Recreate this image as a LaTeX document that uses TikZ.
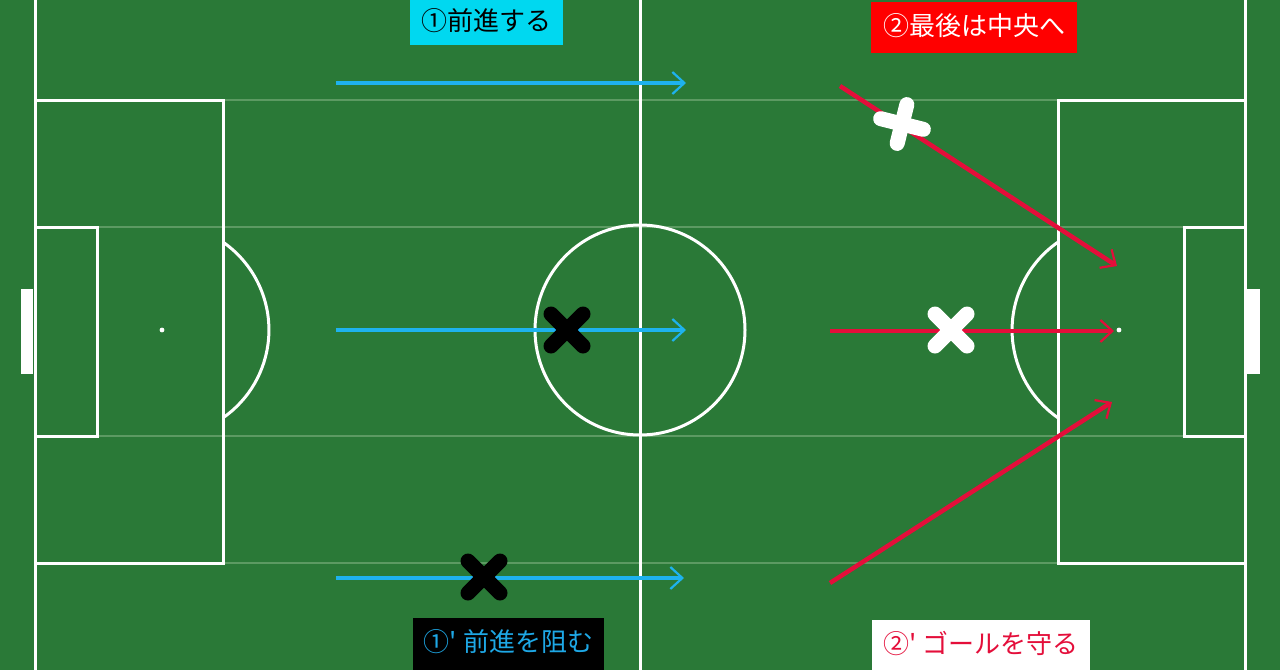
\documentclass[tikz,border=0pt]{standalone}
\usepackage{fontspec}
\newfontfamily\cjk{Noto Sans CJK JP}
\usetikzlibrary{arrows.meta}
\definecolor{pitch}{RGB}{42,121,55}
\definecolor{faint}{RGB}{92,154,98}
\definecolor{arrblue}{RGB}{30,178,238}
\definecolor{arrred}{RGB}{228,14,58}
\definecolor{boxcyan}{RGB}{0,216,240}
\definecolor{boxred}{RGB}{255,0,0}
\definecolor{txtblue}{RGB}{30,168,230}
\tikzset{
  fline/.style={white,line width=3pt},
  faintline/.style={faint,line width=2.5pt},
  bluearr/.style={arrblue,line width=4.5pt,-{Straight Barb[length=12pt,width=22pt,line width=2.2pt]}},
  redarr/.style={arrred,line width=4.5pt,-{Straight Barb[length=12pt,width=22pt,line width=2.2pt]}},
  crossline/.style={line width=15pt,line cap=round},
  label/.style={font=\cjk\fontsize{26}{30}\selectfont,inner sep=0pt,anchor=center},
}
\begin{document}
\begin{tikzpicture}[x=1pt,y=-1pt]
\useasboundingbox (0,0) rectangle (1280,670);
\fill[pitch] (0,0) rectangle (1280,670);
% faint stripes
\foreach \yy in {100,227,436,563}
  \draw[faintline] (35,\yy) -- (1245,\yy);
% touchlines and halfway
\draw[fline] (35,0) -- (35,670);
\draw[fline] (1245,0) -- (1245,670);
\draw[fline] (640,0) -- (640,670);
% left penalty area
\draw[fline] (35,100) -- (223,100) -- (223,563) -- (35,563);
\draw[fline] (35,227) -- (97,227) -- (97,436) -- (35,436);
\draw[fline] (223,242.1) arc[start angle=-55.2,end angle=55.2,radius=107];
\fill[white] (162,330) circle (2.4);
% right penalty area
\draw[fline] (1245,100) -- (1058,100) -- (1058,563) -- (1245,563);
\draw[fline] (1245,227) -- (1184,227) -- (1184,436) -- (1245,436);
\draw[fline] (1058,242.1) arc[start angle=-124.8,end angle=-235.2,radius=107];
\fill[white] (1119,330) circle (2.4);
% centre circle
\draw[fline] (640,330) circle (105);
% goals
\fill[white] (21,289) rectangle (33,374);
\fill[white] (1247,289) rectangle (1260,374);
% blue arrows
\coordinate (b1s) at (336,83);  \coordinate (b1e) at (686,83);
\coordinate (b2s) at (336,330); \coordinate (b2e) at (686,330);
\coordinate (b3s) at (336,578); \coordinate (b3e) at (684,578);
\draw[bluearr] (b1s) -- (b1e);
\draw[bluearr] (b2s) -- (b2e);
\draw[bluearr] (b3s) -- (b3e);
% red arrows
\coordinate (r1s) at (840,86);  \coordinate (r1e) at (1117,266);
\coordinate (r2s) at (830,331); \coordinate (r2e) at (1114,331);
\coordinate (r3s) at (830,583); \coordinate (r3e) at (1112,402);
\draw[redarr] (r1s) -- (r1e);
\draw[redarr] (r2s) -- (r2e);
\draw[redarr] (r3s) -- (r3e);
% crosses
\begin{scope}[shift={(567,330)}]
  \draw[black,crossline] (-16,-16) -- (16,16);
  \draw[black,crossline] (-16,16) -- (16,-16);
\end{scope}
\begin{scope}[shift={(484,577)}]
  \draw[black,crossline] (-16,-16) -- (16,16);
  \draw[black,crossline] (-16,16) -- (16,-16);
\end{scope}
\begin{scope}[shift={(951,330)}]
  \draw[white,crossline] (-16,-16) -- (16,16);
  \draw[white,crossline] (-16,16) -- (16,-16);
\end{scope}
\begin{scope}[shift={(902,124)},rotate=-14]
  \draw[white,crossline] (-22,0) -- (22,0);
  \draw[white,crossline] (0,-20) -- (0,20);
\end{scope}
% labels
\fill[boxcyan] (410,0) rectangle (563,45);
\node[label,text=black] (l1) at (486.5,21) {①前進する};
\fill[boxred] (871,2) rectangle (1077,53);
\node[label,text=white] (l2) at (974,26) {②最後は中央へ};
\fill[black] (413,618) rectangle (604,670);
\node[label,text=txtblue] (l3) at (508.5,642) {①' 前進を阻む};
\fill[white] (872,620) rectangle (1090,670);
\node[label,text=arrred] (l4) at (981,644) {②' ゴールを守る};
\end{tikzpicture}
\end{document}
